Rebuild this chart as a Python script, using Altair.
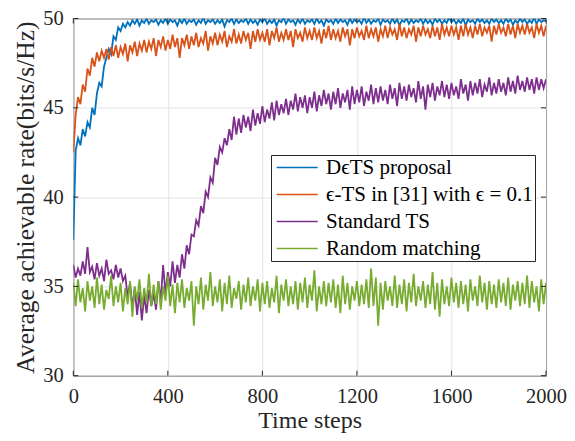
import altair as alt
import pandas as pd

# time steps (every 10th step)
t = list(range(0, 2001, 10))

blue = [
    37.6, 42.6, 43.3, 42.9, 43.8, 43.4, 44.2, 43.9, 45.0, 44.6,
    45.8, 46.4, 46.2, 47.3, 47.8, 48.3, 48.0, 49.0, 48.8, 49.5,
    49.3, 49.7, 49.5, 49.8, 49.6, 49.9, 49.7, 49.95, 49.6, 49.9,
    49.75, 50.0, 49.7, 49.9, 49.8, 49.95, 49.65, 49.9, 49.75, 50.0,
    49.7, 49.95, 49.8, 49.9, 49.6, 49.95, 49.75, 50.0, 49.7, 49.9,
    49.8, 49.95, 49.65, 49.9, 49.75, 50.05, 49.7, 49.9, 49.8, 49.95,
    49.7, 49.9, 49.75, 49.95, 49.55, 49.9, 49.8, 50.0, 49.7, 49.95,
    49.75, 49.9, 49.8, 50.0, 49.7, 49.95, 49.75, 49.9, 49.65, 49.95,
    49.8, 50.0, 49.7, 49.9, 49.75, 49.95, 49.6, 49.9, 49.8, 50.05,
    49.7, 49.95, 49.8, 49.9, 49.65, 49.95, 49.75, 50.0, 49.7, 49.9,
    49.8, 49.95, 49.7, 50.0, 49.75, 49.9, 49.6, 49.95, 49.8, 49.9,
    49.7, 50.0, 49.75, 49.95, 49.8, 49.9, 49.65, 50.0, 49.75, 49.95,
    49.8, 49.9, 49.7, 50.05, 49.75, 49.95, 49.7, 49.9, 49.8, 50.0,
    49.65, 49.95, 49.8, 49.9, 49.7, 50.0, 49.75, 49.95, 49.6, 49.9,
    49.8, 50.0, 49.7, 49.95, 49.75, 49.9, 49.8, 50.0, 49.7, 49.95,
    49.75, 49.9, 49.65, 50.0, 49.8, 49.95, 49.7, 49.9, 49.75, 50.05,
    49.8, 49.95, 49.7, 49.9, 49.75, 50.0, 49.6, 49.95, 49.8, 49.9,
    49.7, 50.0, 49.8, 49.95, 49.75, 49.9, 49.7, 50.0, 49.8, 49.95,
    49.75, 49.9, 49.7, 50.0, 49.8, 49.95, 49.65, 49.9, 49.75, 50.0,
    49.8, 49.95, 49.7, 49.9, 49.75, 50.05, 49.7, 49.95, 49.8, 49.9,
    49.85,
]

orange = [
    42.5, 44.6, 45.6, 45.2, 46.3, 45.9, 47.2, 46.8, 47.8, 47.3,
    48.1, 47.6, 48.2, 47.8, 48.3, 47.7, 48.4, 47.9, 48.5, 47.8,
    48.4, 48.0, 48.6, 47.6, 48.5, 48.1, 48.7, 47.9, 48.6, 48.2,
    48.8, 48.1, 48.7, 48.3, 48.9, 47.9, 48.8, 48.4, 49.0, 48.2,
    48.8, 48.3, 49.1, 48.4, 48.9, 47.8, 48.9, 48.5, 49.1, 48.3,
    49.0, 48.5, 49.2, 48.4, 48.9, 48.6, 49.3, 48.2, 49.0, 48.6,
    49.2, 48.5, 49.1, 48.7, 49.3, 48.4, 49.0, 48.7, 49.4, 48.6,
    49.1, 48.6, 49.3, 48.8, 49.2, 48.3, 49.3, 48.7, 49.4, 48.8,
    49.2, 48.7, 49.4, 48.5, 49.3, 48.9, 49.5, 48.7, 49.2, 48.8,
    49.4, 48.8, 49.3, 48.4, 49.4, 48.9, 49.2, 48.7, 49.5, 48.9,
    49.3, 48.8, 49.5, 48.9, 49.3, 48.6, 49.4, 48.9, 49.6, 48.8,
    49.4, 48.9, 49.3, 48.7, 49.5, 49.0, 49.4, 48.5, 49.4, 48.9,
    49.5, 49.0, 49.3, 48.8, 49.6, 48.9, 49.4, 49.0, 49.5, 48.7,
    49.4, 49.0, 49.6, 48.9, 49.5, 49.1, 49.4, 48.8, 49.7, 49.0,
    49.5, 48.9, 49.4, 49.1, 49.6, 48.7, 49.5, 49.0, 49.6, 49.1,
    49.4, 48.9, 49.6, 49.0, 49.5, 48.8, 49.7, 49.1, 49.5, 49.0,
    49.6, 49.1, 49.5, 48.8, 49.6, 49.0, 49.7, 49.1, 49.5, 48.9,
    49.6, 49.1, 49.7, 49.0, 49.5, 49.2, 49.6, 48.7, 49.6, 49.1,
    49.7, 49.2, 49.5, 49.0, 49.7, 49.1, 49.6, 48.9, 49.7, 49.2,
    49.6, 49.1, 49.7, 49.2, 49.5, 48.9, 49.7, 49.2, 49.6, 49.0,
    49.6,
]

purple = [
    36.2, 35.5, 36.0, 35.6, 36.4, 35.7, 37.2, 35.8, 36.1, 35.4,
    36.3, 35.6, 36.0, 35.3, 36.5, 35.7, 35.9, 35.4, 36.2, 35.5,
    36.0, 35.3, 35.6, 34.4, 35.2, 33.8, 34.9, 33.4, 34.7, 33.1,
    34.5, 33.5, 34.8, 33.9, 34.6, 33.7, 35.3, 34.2, 36.2, 34.6,
    35.8, 35.0, 36.4, 35.2, 36.2, 35.5, 36.8, 36.0, 37.3, 36.8,
    37.9, 37.8, 38.7, 38.4, 39.5, 39.1, 40.3, 40.0, 41.1, 40.8,
    42.2, 41.8, 42.8, 42.5, 43.3, 42.9, 43.8, 43.2, 44.5, 43.5,
    44.4, 43.6, 44.6, 43.9, 44.5, 43.7, 44.9, 44.0, 44.7, 44.1,
    45.1, 44.2, 44.9, 44.4, 45.3, 44.3, 45.4, 44.6, 45.2, 44.7,
    45.5, 44.6, 45.4, 44.9, 45.8, 44.8, 45.6, 45.0, 45.7, 44.7,
    45.6, 45.0, 45.9, 44.8, 45.7, 45.1, 46.0, 45.2, 45.8, 44.9,
    45.9, 45.2, 46.1, 45.0, 45.8, 45.3, 46.0, 44.9, 46.2, 45.2,
    46.0, 45.3, 46.2, 45.1, 45.9, 45.4, 46.3, 45.2, 46.1, 45.3,
    46.2, 45.4, 46.0, 45.2, 46.3, 45.5, 46.1, 45.1, 46.4, 45.5,
    46.2, 45.4, 46.3, 45.6, 46.1, 45.3, 46.5, 45.5, 46.2, 44.9,
    46.3, 45.6, 46.4, 45.4, 46.2, 45.7, 46.5, 45.6, 46.3, 45.5,
    46.4, 45.7, 46.2, 45.5, 46.6, 45.8, 46.3, 45.4, 46.5, 45.7,
    46.4, 45.8, 46.6, 45.6, 46.3, 45.9, 46.7, 45.7, 46.4, 45.8,
    46.6, 45.9, 46.4, 45.7, 46.7, 45.9, 46.5, 45.8, 46.8, 46.0,
    46.5, 45.9, 46.7, 46.0, 46.6, 45.8, 46.7, 46.0, 46.6, 46.1,
    46.6,
]

green = [
    35.2, 33.9, 35.4, 34.1, 34.9, 33.6, 35.3, 34.2, 35.0, 33.8,
    35.5, 34.0, 35.1, 33.7, 34.8, 34.3, 35.6, 33.9, 35.0, 34.1,
    35.2, 33.6, 34.9, 34.0, 35.3, 33.3, 35.0, 34.2, 35.4, 33.8,
    34.9, 34.1, 35.7, 33.9, 35.1, 34.0, 35.3, 33.7, 35.0, 34.2,
    35.6, 33.9, 35.1, 33.5, 35.2, 34.1, 35.4, 33.8, 34.9, 34.2,
    35.3, 32.8, 35.0, 34.0, 35.5, 33.7, 35.1, 34.2, 35.8, 33.9,
    35.0, 34.1, 35.4, 33.6, 35.2, 34.0, 35.6, 33.8, 34.9, 34.3,
    35.3, 33.7, 35.1, 34.1, 35.5, 33.9, 35.0, 34.2, 35.4, 33.6,
    35.2, 34.0, 35.3, 33.8, 34.9, 34.1, 35.6, 33.5, 35.1, 34.2,
    35.4, 33.9, 35.0, 34.0, 35.3, 33.7, 35.2, 34.1, 35.5, 33.8,
    35.1, 34.2, 35.9, 33.6, 35.0, 34.0, 35.3, 33.9, 35.2, 34.1,
    35.4, 33.8, 35.1, 33.5, 35.6, 34.0, 35.2, 33.7, 35.0, 34.2,
    35.3, 33.9, 35.1, 34.0, 35.4, 33.8, 36.0, 33.9, 35.5, 32.8,
    35.2, 33.7, 35.3, 34.2, 35.0, 33.9, 35.6, 33.8, 35.1, 34.0,
    35.4, 33.6, 35.2, 34.1, 35.7, 33.9, 35.0, 34.2, 35.3, 33.8,
    35.1, 34.0, 35.8, 33.7, 35.2, 33.3, 35.4, 34.0, 35.0, 33.9,
    35.5, 34.1, 35.2, 33.8, 35.3, 34.0, 35.1, 33.6, 35.4, 34.2,
    35.0, 33.9, 35.6, 34.1, 35.2, 33.7, 35.3, 34.0, 35.1, 33.8,
    35.4, 34.1, 35.2, 33.9, 35.5, 33.7, 35.1, 34.2, 35.3, 33.9,
    35.2, 34.0, 35.6, 33.8, 35.3, 34.1, 35.0, 33.6, 35.4, 34.0,
    35.2,
]

names = ["D\u03f5TS proposal", "\u03f5-TS in [31] with \u03f5 = 0.1",
         "Standard TS", "Random matching"]
colors = ["#0072BD", "#D95319", "#7E2F8E", "#77AC30"]
series_vals = [blue, orange, purple, green]

x_ticks = [0, 400, 800, 1200, 1600, 2000]
y_ticks = [30, 35, 40, 45, 50]

frames = []
for name, vals in zip(names, series_vals):
    frames.append(pd.DataFrame({"t": t, "rate": vals, "series": name}))
df = pd.concat(frames, ignore_index=True)

W, H = 472.7, 357.2
FONT = "Liberation Serif"
INK = "#262626"

xsc = alt.Scale(domain=[0, 2000], nice=False, zero=False)
ysc = alt.Scale(domain=[30, 50], nice=False, zero=False)

xaxis = alt.Axis(values=x_ticks, title="Time steps", grid=True, gridColor="#e3e3e3",
                 domain=False, ticks=True, tickSize=0, tickColor="transparent",
                 labelPadding=10.4, labelFlush=False, format="d",
                 titleY=52, titleBaseline="alphabetic", titleFontSize=24)
yaxis = alt.Axis(values=y_ticks, title="Average achievable rate(bits/s/Hz)", grid=True,
                 gridColor="#e3e3e3", domain=False, ticks=True, tickSize=0,
                 tickColor="transparent", labelPadding=10, labelFlush=False,
                 titleX=-40, titleBaseline="alphabetic", titleFontSize=25.5)

color = alt.Color("series:N", scale=alt.Scale(domain=names, range=colors),
                  legend=alt.Legend(orient="none", legendX=197.7, legendY=136.5,
                                    title=None, symbolType="M-1,0H5", symbolSize=187,
                                    symbolStrokeWidth=1.6, labelFont=FONT,
                                    labelFontSize=21, labelColor="black",
                                    rowPadding=5, padding=2, strokeColor=INK,
                                    fillColor="white", labelOffset=32, labelLimit=500,
                                    cornerRadius=0))

layers = []
for name in names:
    layers.append(
        alt.Chart(df).transform_filter(alt.datum.series == name)
        .mark_line(strokeWidth=1.8, clip=True)
        .encode(x=alt.X("t:Q", scale=xsc, axis=xaxis),
                y=alt.Y("rate:Q", scale=ysc, axis=yaxis),
                color=color)
    )

xt_df = pd.DataFrame({"t": x_ticks})
yt_df = pd.DataFrame({"rate": y_ticks})
tick_bottom = alt.Chart(xt_df).mark_rule(color=INK, strokeWidth=1).encode(
    x=alt.X("t:Q", scale=xsc, axis=xaxis), y=alt.value(H), y2=alt.value(H - 5))
tick_top = alt.Chart(xt_df).mark_rule(color=INK, strokeWidth=1).encode(
    x=alt.X("t:Q", scale=xsc, axis=xaxis), y=alt.value(0), y2=alt.value(5))
tick_left = alt.Chart(yt_df).mark_rule(color=INK, strokeWidth=1).encode(
    y=alt.Y("rate:Q", scale=ysc, axis=yaxis), x=alt.value(0), x2=alt.value(5))
tick_right = alt.Chart(yt_df).mark_rule(color=INK, strokeWidth=1).encode(
    y=alt.Y("rate:Q", scale=ysc, axis=yaxis), x=alt.value(W), x2=alt.value(W - 5))

chart = alt.layer(*layers, tick_bottom, tick_top, tick_left, tick_right).properties(
    width=W, height=H,
    autosize=alt.AutoSizeParams(type="none"),
    padding={"left": 65.3, "top": 10.5, "right": 21, "bottom": 57.3},
    background="white",
).configure_view(stroke=INK, strokeWidth=1).configure_axis(
    labelFont=FONT, labelFontSize=20.5, labelColor=INK,
    titleFont=FONT, titleFontWeight="normal", titleColor=INK,
)

chart.save("out.html", embed_options={"renderer": "svg", "actions": False})
